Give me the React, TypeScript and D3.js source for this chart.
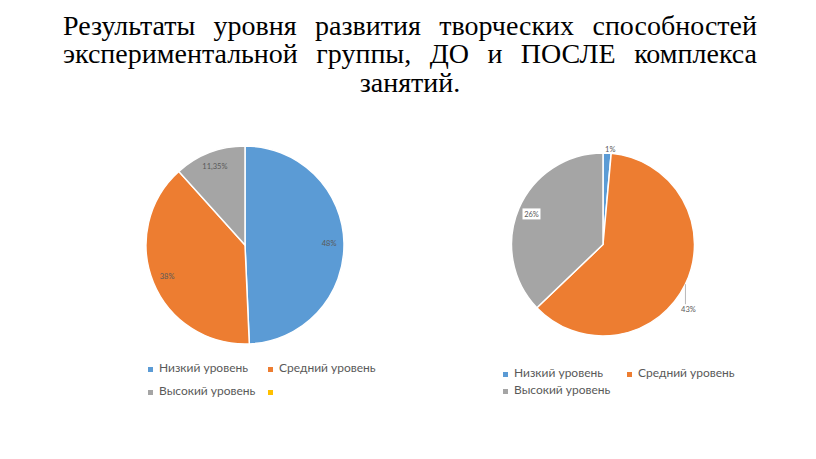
import React, { useLayoutEffect, useRef, useState } from "react";
import * as d3 from "d3";

const titleLines = [
  "Результаты уровня развития творческих способностей",
  "экспериментальной группы, ДО и ПОСЛЕ комплекса",
  "занятий.",
];

const categories = ["Низкий уровень", "Средний уровень", "Высокий уровень"];
const beforeValues = [48, 38, 11.35];
const beforeLabels = ["48%", "38%", "11,35%"];
const afterValues = [1, 43, 26];
const afterLabels = ["1%", "43%", "26%"];
const colors = ["#5B9BD5", "#ED7D31", "#A5A5A5", "#FFC000"];

const W = 816;
const H = 459;

const serif = "'Liberation Serif'";
const sans = "'Lato'";

function Title() {
  const refs = useRef<(SVGTextElement | null)[][]>([]);
  const [widths, setWidths] = useState<number[][] | null>(null);
  const words = titleLines.map((l) => l.split(" "));
  useLayoutEffect(() => {
    const measure = () => {
      const w = refs.current.map((row) => row.map((el) => (el ? el.getComputedTextLength() : 0)));
      setWidths(w);
    };
    measure();
    if ((document as any).fonts && (document as any).fonts.ready) {
      (document as any).fonts.ready.then(measure);
    }
  }, []);
  const left = 63;
  const right = 757;
  const baselines = [35, 63, 92];
  return (
    <g fill="#000">
      {words.map((row, li) => {
        refs.current[li] = refs.current[li] || [];
        const xs: number[] = [];
        if (widths) {
          const ws = widths[li];
          const total = d3.sum(ws);
          if (li < words.length - 1) {
            const gap = (right - left - total) / (row.length - 1);
            let x = left;
            ws.forEach((w) => {
              xs.push(x);
              x += w + gap;
            });
          } else {
            const sp = 7;
            const tw = total + sp * (row.length - 1);
            let x = (left + right) / 2 - tw / 2;
            ws.forEach((w) => {
              xs.push(x);
              x += w + sp;
            });
          }
        }
        return row.map((word, wi) => (
          <text
            key={li + "-" + wi}
            ref={(el) => {
              refs.current[li][wi] = el;
            }}
            x={xs[wi] ?? 0}
            y={baselines[li]}
            style={{ fontFamily: serif, fontSize: 28 }}
            opacity={widths ? 1 : 0}
          >
            {word}
          </text>
        ));
      })}
    </g>
  );
}

type PieProps = {
  cx: number;
  cy: number;
  r: number;
  values: number[];
  labels: string[];
  variant: "before" | "after";
};

function Pie({ cx, cy, r, values, labels, variant }: PieProps) {
  const pie = d3.pie<number>().sort(null).value((d) => d);
  const arcs = pie(values);
  const arc = d3.arc<d3.PieArcDatum<number>>().innerRadius(0).outerRadius(r);
  const labelArc = d3.arc<d3.PieArcDatum<number>>().innerRadius(r * 0.85).outerRadius(r * 0.85);
  const ts = { fontFamily: sans, fontSize: 7.5 };
  return (
    <g transform={`translate(${cx},${cy})`}>
      {arcs.map((a, i) => (
        <path key={i} d={arc(a) || ""} fill={colors[i]} stroke="#fff" strokeWidth={1.5} />
      ))}
      {arcs.map((a, i) => {
        const [lx, ly] = labelArc.centroid(a);
        const mid = (a.startAngle + a.endAngle) / 2;
        if (variant === "before") {
          return (
            <text key={"l" + i} x={lx} y={ly} dy="0.35em" textAnchor="middle" style={ts} fill="#595959">
              {labels[i]}
            </text>
          );
        }
        if (i === 0) {
          const ex = Math.sin(mid) * (r + 4);
          const ey = -Math.cos(mid) * (r + 4);
          return (
            <text key={"l" + i} x={ex + 3} y={ey} dy="0.35em" textAnchor="middle" style={ts} fill="#595959">
              {labels[i]}
            </text>
          );
        }
        if (i === 1) {
          const ex = Math.sin(mid) * r;
          const ey = -Math.cos(mid) * r;
          return (
            <g key={"l" + i}>
              <line x1={ex} y1={ey} x2={ex} y2={ey + 20} stroke="#A6A6A6" strokeWidth={0.8} />
              <text x={ex + 3} y={ey + 25} dy="0.35em" textAnchor="middle" style={ts} fill="#595959">
                {labels[i]}
              </text>
            </g>
          );
        }
        return (
          <g key={"l" + i}>
            <rect x={lx - 9} y={ly - 5.5} width={18} height={11} fill="#fff" />
            <text x={lx} y={ly} dy="0.35em" textAnchor="middle" style={ts} fill="#595959">
              {labels[i]}
            </text>
          </g>
        );
      })}
    </g>
  );
}

type LegendItem = { name: string; color: string; x: number; y: number };

function Legend({ items }: { items: LegendItem[] }) {
  return (
    <g fill="#595959">
      {items.map((it, i) => (
        <g key={i}>
          <rect x={it.x} y={it.y - 5} width={5} height={5} fill={it.color} />
          <text x={it.x + 11} y={it.y} style={{ fontFamily: sans, fontSize: 12 }}>{it.name}</text>
        </g>
      ))}
    </g>
  );
}

export default function App() {
  const legend1: LegendItem[] = [
    { name: categories[0], color: colors[0], x: 148, y: 372 },
    { name: categories[1], color: colors[1], x: 268, y: 372 },
    { name: categories[2], color: colors[2], x: 148, y: 395 },
    { name: "", color: colors[3], x: 268, y: 395 },
  ];
  const legend2: LegendItem[] = [
    { name: categories[0], color: colors[0], x: 503, y: 377 },
    { name: categories[1], color: colors[1], x: 627, y: 377 },
    { name: categories[2], color: colors[2], x: 503, y: 394 },
  ];
  return (
    <svg
      width={W}
      height={H}
      style={{ position: "absolute", left: 0, top: 0, display: "block", background: "#fff" }}
    >
      <rect width={W} height={H} fill="#fff" />
      <Title />
      <Pie cx={245} cy={245} r={99} values={beforeValues} labels={beforeLabels} variant="before" />
      <Pie cx={603} cy={244.5} r={91.5} values={afterValues} labels={afterLabels} variant="after" />
      <Legend items={legend1} />
      <Legend items={legend2} />
    </svg>
  );
}
